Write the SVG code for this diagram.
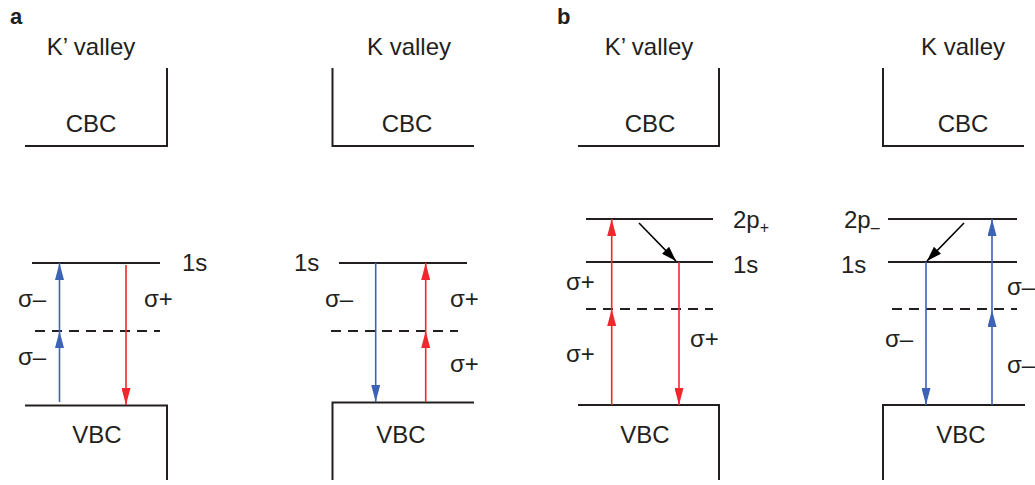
<svg xmlns="http://www.w3.org/2000/svg" width="1035" height="485" viewBox="0 0 1035 485">
<style>
text{font-family:"Liberation Sans",Arial,sans-serif;font-size:24px;fill:#231f20}
.c{text-anchor:middle}
.lbl{font-weight:bold;font-size:22px}
.k{stroke:#231f20;stroke-width:2;fill:none}
.d{stroke:#231f20;stroke-width:1.8;stroke-dasharray:10 7;fill:none}
.r{stroke:#f0282d;stroke-width:1.6;fill:none;marker-end:url(#hr)}
.b{stroke:#3d63b5;stroke-width:1.6;fill:none;marker-end:url(#hb)}
.a{stroke:#000;stroke-width:1.6;fill:none;marker-end:url(#hk)}
</style>
<defs>
<marker id="hr" markerUnits="userSpaceOnUse" markerWidth="17" markerHeight="9" refX="17" refY="4.5" orient="auto"><path d="M0,0 L17,4.5 L0,9 z" fill="#f0282d"/></marker>
<marker id="hb" markerUnits="userSpaceOnUse" markerWidth="17" markerHeight="9" refX="17" refY="4.5" orient="auto"><path d="M0,0 L17,4.5 L0,9 z" fill="#3d63b5"/></marker>
<marker id="hk" markerUnits="userSpaceOnUse" markerWidth="15" markerHeight="10" refX="15" refY="5" orient="auto"><path d="M0,0 L15,5 L0,10 z" fill="#000"/></marker>
</defs>
<rect width="1035" height="485" fill="#fff"/>

<g id="panel-a-Kprime">
<text class="lbl" x="10" y="24">a</text>
<text class="c" x="91" y="55">K’ valley</text>
<path class="k" d="M25,146 H167 V68"/>
<text class="c" x="91" y="132">CBC</text>
<line class="k" x1="32" y1="263" x2="160" y2="263"/>
<text x="182" y="271">1s</text>
<line class="d" x1="35" y1="331" x2="160" y2="331"/>
<path class="k" d="M25,405.5 H167 V480"/>
<text class="c" x="97" y="443">VBC</text>
<text x="18" y="307">σ–</text>
<text x="18" y="365">σ–</text>
<text x="144" y="307">σ+</text>
</g>

<g id="panel-a-K">
<text class="c" x="409" y="55">K valley</text>
<path class="k" d="M332.5,68 V146 H474"/>
<text class="c" x="407" y="132">CBC</text>
<line class="k" x1="339" y1="263" x2="467" y2="263"/>
<text x="294" y="271">1s</text>
<line class="d" x1="331" y1="331" x2="458" y2="331"/>
<path class="k" d="M474,402.5 H332.5 V480"/>
<text class="c" x="401" y="443">VBC</text>
<text x="325" y="307">σ–</text>
<text x="450" y="307">σ+</text>
<text x="450" y="372">σ+</text>
</g>

<g id="panel-b-Kprime">
<text class="lbl" x="557" y="24">b</text>
<text class="c" x="649" y="55">K’ valley</text>
<path class="k" d="M578,146 H719 V68"/>
<text class="c" x="650" y="132">CBC</text>
<line class="k" x1="586" y1="219" x2="713" y2="219"/>
<text x="733" y="228">2p<tspan font-size="16" dy="5">+</tspan></text>
<line class="k" x1="586" y1="262" x2="713" y2="262"/>
<text x="733" y="273">1s</text>
<line class="d" x1="586" y1="309" x2="713" y2="309"/>
<path class="k" d="M578,405 H719 V480"/>
<text class="c" x="645" y="443">VBC</text>
<text x="566" y="290">σ+</text>
<text x="566" y="362">σ+</text>
<text x="690" y="347">σ+</text>
</g>

<g id="panel-b-K">
<text class="c" x="963" y="55">K valley</text>
<path class="k" d="M883,68 V146 H1024"/>
<text class="c" x="963" y="132">CBC</text>
<line class="k" x1="888" y1="219" x2="1017" y2="219"/>
<text x="844" y="228">2p<tspan font-size="16" dy="5">–</tspan></text>
<line class="k" x1="888" y1="262" x2="1017" y2="262"/>
<text x="841" y="273">1s</text>
<line class="d" x1="892" y1="309" x2="1017" y2="309"/>
<path class="k" d="M1025,405 H883 V480"/>
<text class="c" x="961" y="443">VBC</text>
<text x="885" y="347">σ–</text>
<text x="1007" y="295">σ–</text>
<text x="1007" y="373">σ–</text>
</g>

<g id="connectors">
<line class="b" x1="59.5" y1="402" x2="59.5" y2="331"/>
<line class="b" x1="59.5" y1="331" x2="59.5" y2="263"/>
<line class="r" x1="126" y1="265" x2="126" y2="405"/>
<line class="b" x1="375.7" y1="263" x2="375.7" y2="402"/>
<line class="r" x1="425.7" y1="402" x2="425.7" y2="331"/>
<line class="r" x1="425.7" y1="331" x2="425.7" y2="263"/>
<line class="r" x1="611.7" y1="405" x2="611.7" y2="309"/>
<line class="r" x1="611.7" y1="309" x2="611.7" y2="219"/>
<line class="a" x1="639" y1="223" x2="676" y2="261"/>
<line class="r" x1="679" y1="262" x2="679" y2="405"/>
<line class="a" x1="964" y1="223" x2="927" y2="261"/>
<line class="b" x1="926" y1="262" x2="926" y2="405"/>
<line class="b" x1="992" y1="405" x2="992" y2="310"/>
<line class="b" x1="992" y1="310" x2="992" y2="219"/>
</g>
</svg>
